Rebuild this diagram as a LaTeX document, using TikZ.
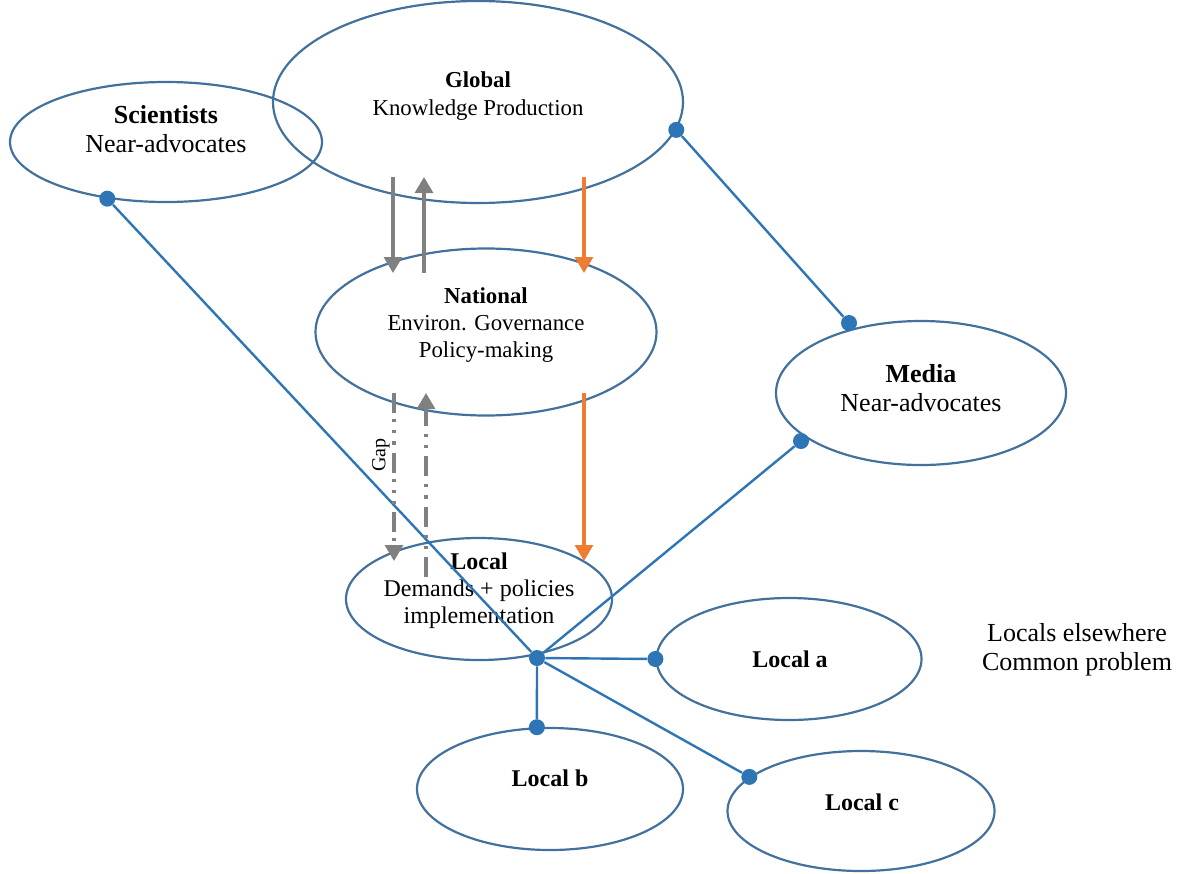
\documentclass[tikz,border=0pt]{standalone}
\usepackage{fontspec}
\setmainfont{Liberation Serif}
\usetikzlibrary{shapes.geometric,arrows.meta}
\definecolor{bordo}{HTML}{41719C}
\definecolor{linea}{HTML}{2E75B6}
\definecolor{grigio}{HTML}{808080}
\definecolor{arancio}{HTML}{ED7D31}
\def\grande{\fontsize{13}{14.5}\selectfont}
\def\medio{\fontsize{12}{13.5}\selectfont}
\def\piccolo{\fontsize{11.4}{13.6}\selectfont}

\begin{document}
\begin{tikzpicture}[x=0.5pt,y=-0.5pt,
   ell/.style={ellipse,draw=bordo,line width=1.1pt,inner sep=0pt},
   dot/.style={circle,fill=linea,inner sep=0pt,minimum size=8pt},
   conn/.style={linea,line width=1.2pt},
   freccia/.style={line width=1.6pt,-{Triangle[width=9pt,length=8pt]}},
   testo/.style={align=center,inner sep=0pt}]
\useasboundingbox (0,0) rectangle (1183,873);
% ellissi
   \node[ell,minimum width=156pt,minimum height=60pt] (sci) at (166,142) {};
   \node[ell,minimum width=205pt,minimum height=101pt] (glob) at (478,102) {};
   \node[ell,minimum width=170.5pt,minimum height=83.5pt] (naz) at (486,332) {};
   \node[ell,minimum width=145pt,minimum height=72pt] (media) at (921,393) {};
   \node[ell,minimum width=133pt,minimum height=61pt] (loc) at (479,599) {};
   \node[ell,minimum width=132.5pt,minimum height=61pt] (loca) at (789,659) {};
   \node[ell,minimum width=133pt,minimum height=61pt] (locb) at (550,789) {};
   \node[ell,minimum width=133.5pt,minimum height=60pt] (locc) at (861,811) {};
% testi
   \node[testo,font=\grande] (tsci) at (166,129) {\textbf{Scientists}\\Near-advocates};
   \node[testo,font=\piccolo] (tglob) at (478,96) {\textbf{Global}\\Knowledge Production};
   \node[testo,font=\piccolo] (tnaz) at (486,325) {\textbf{National}\\Environ. Governance\\Policy-making};
   \node[testo,font=\grande] (tmedia) at (921,388) {\textbf{Media}\\Near-advocates};
   \node[testo,font=\medio] (tloc) at (479,591) {\textbf{Local}\\Demands + policies\\implementation};
   \node[testo,font=\medio\bfseries] (tloca) at (790,659) {Local a};
   \node[testo,font=\medio\bfseries] (tlocb) at (550,778) {Local b};
   \node[testo,font=\medio\bfseries] (tlocc) at (862,802) {Local c};
   \node[testo,font=\grande] (altrove) at (1077,650) {Locals elsewhere\\Common problem};
   \node[testo,rotate=90,font=\fontsize{10}{12}\selectfont] (gap) at (381,455) {Gap};
% punti di collegamento
   \node[dot] (dsci) at (sci.224) {};
   \node[dot] (dglob) at (glob.-8) {};
   \node[dot] (dmedia1) at (849,323) {};
   \node[dot] (dmedia2) at (801,441) {};
   \node[dot] (hub) at (537,658) {};
   \node[dot] (dloca) at (loca.180) {};
   \node[dot] (dlocb) at (locb.102) {};
   \node[dot] (dlocc) at (locc.163) {};
% collegamenti
   \draw[conn] (dsci) -- (hub); \draw[conn] (dglob) -- (dmedia1);
   \draw[conn] (dmedia2) -- (hub); \draw[conn] (hub) -- (dloca);
   \draw[conn] (hub) -- (dlocb); \draw[conn] (hub) -- (dlocc);
% frecce globale - nazionale
   \coordinate (g1) at (393,177); \coordinate (n1) at (393,273);
   \coordinate (g2) at (424,177); \coordinate (n2) at (424,273);
   \coordinate (g3) at (584,177); \coordinate (n3) at (584,273);
   \draw[freccia,grigio] (g1) -- (n1); \draw[freccia,grigio] (n2) -- (g2);
   \draw[freccia,arancio] (g3) -- (n3);
% frecce nazionale - locale
   \coordinate (n4) at (394,393); \coordinate (l4) at (394,561);
   \coordinate (n5) at (426,393); \coordinate (l5) at (426,577);
   \coordinate (n6) at (584,393); \coordinate (l6) at (584,561);
   \draw[freccia,grigio,dash pattern=on 10pt off 3pt on 1.6pt off 4pt on 1.6pt off 4pt on 1.6pt off 4pt]
      (n4) -- (l4);
   \draw[freccia,grigio,dash pattern=on 10pt off 4pt on 1.6pt off 4pt on 1.6pt off 4pt] (l5) -- (n5);
   \draw[freccia,arancio] (n6) -- (l6);
\end{tikzpicture}
\end{document}
